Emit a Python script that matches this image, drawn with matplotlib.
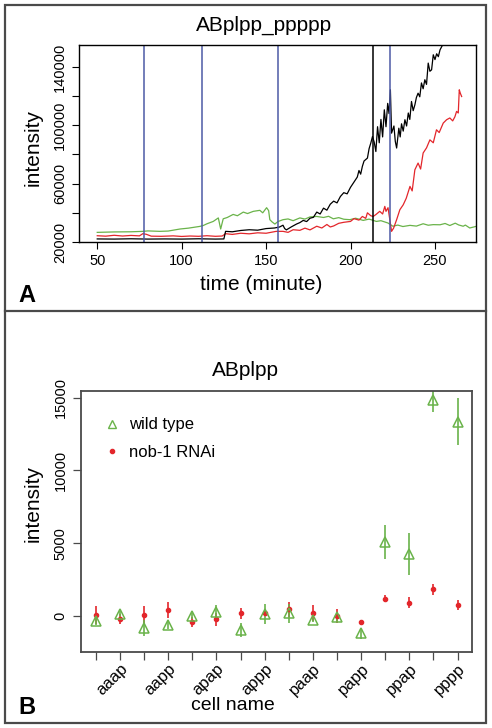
import matplotlib
matplotlib.use("Agg")
import matplotlib.pyplot as plt
from matplotlib.patches import Rectangle
from matplotlib.lines import Line2D

plt.rcParams['font.family'] = ['Liberation Sans', 'DejaVu Sans']

# Panel A: intensity traces (time in minutes)
black_t = [50, 60, 70, 80, 90, 100, 110, 120, 125, 126, 130, 135, 140, 145, 150, 155, 158, 160,
           161, 162, 165, 168, 170, 172, 174, 176, 178, 180, 182, 184, 186, 188, 190, 192, 194,
           196, 198, 200, 202, 204, 205, 206, 207, 208, 210, 211, 212, 213, 214, 215, 216, 217,
           218, 219, 220, 221, 222, 222.8, 223.6, 224.3, 225.7, 226.5, 227.3, 228.6, 229.4,
           230.2, 231.2, 232.2, 233.2, 234.2, 235.1, 236.1, 237.1, 238.1, 239, 240, 241, 242,
           243, 244, 245, 246, 247, 248, 249, 250, 251, 252, 253, 254.5]
black_v = [22100, 22000, 22200, 22000, 22100, 22000, 22200, 22000, 22100, 27300, 27000, 27900,
           28400, 28100, 29200, 29600, 30300, 31500, 29200, 28300, 30400, 32300, 33300, 34800,
           34000, 36300, 36900, 40500, 39200, 43200, 41800, 45900, 48000, 46800, 51200, 53800,
           53000, 57500, 61000, 64500, 69000, 66500, 71800, 75500, 77500, 84000, 87800, 92300,
           88500, 82000, 99000, 88000, 104000, 92000, 110600, 99000, 115000, 108000, 124300,
           94600, 99500, 89000, 84400, 98000, 92000, 101000, 96000, 103800, 99500, 108400,
           104000, 116300, 110000, 114000, 119000, 122000, 119500, 129000, 125000, 131200,
           128000, 142600, 137000, 138000, 148300, 145000, 149000, 147000, 151700, 155000]

red_t = [50, 55, 60, 65, 70, 75, 77, 79, 82, 88, 95, 100, 105, 110, 115, 120, 124, 126, 130, 135,
         140, 145, 150, 156, 160, 163, 166, 170, 173, 176, 180, 183, 186, 188, 190, 193, 196, 200,
         202, 205, 207, 209, 210, 212, 213.4, 215, 217.3, 219, 220.3, 221, 222.2, 223.3, 224.3,
         225.5, 227.3, 229.2, 231.2, 233, 235.2, 236.5, 238.1, 240, 241.5, 243, 245, 247, 249,
         250.9, 252.5, 254.9, 256.9, 258.8, 260.5, 261.8, 262.8, 263.8, 264.4, 265, 265.8]
red_v = [24300, 24000, 24600, 24100, 24500, 24200, 25700, 25300, 24000, 23900, 24200, 23800,
         24100, 23900, 24300, 23900, 24100, 25700, 25200, 26000, 25600, 26300, 26000, 27300,
         27300, 26600, 28400, 28000, 29500, 28300, 30800, 29600, 32000, 30300, 31000, 32800,
         33500, 34100, 36000, 35000, 37500, 36200, 40000, 38000, 37500, 38800, 41000, 39200,
         44400, 41000, 43500, 35000, 27300, 29500, 35300, 42100, 45500, 50000, 58100, 55000,
         69500, 74100, 70000, 81000, 84500, 90000, 88000, 96900, 95000, 101500, 103800, 105000,
         103000, 105800, 109500, 108400, 124300, 122000, 119700]

green_t = [50, 60, 70, 77.2, 80, 87.1, 92, 99, 104, 110.8, 112.8, 115, 118.7, 121.7, 123.1,
           124.6, 127, 130.5, 133, 136.5, 139, 142.4, 146.3, 148, 150.3, 151.5, 152.2, 153.5,
           155.2, 157, 160, 163, 166, 170, 173, 176, 180, 184, 187, 189.8, 193, 196, 199.6, 203,
           207.5, 211, 215.3, 218, 222.2, 225.1, 228, 231, 235.2, 239, 243, 246, 249, 253, 256,
           258.8, 262, 264, 266.7, 268, 270.6, 273, 275]
green_v = [26600, 26900, 27000, 27300, 27600, 27300, 27500, 28900, 29500, 30700, 31300, 32500,
           34100, 36500, 28900, 35900, 36800, 38900, 38000, 40500, 39500, 41000, 41700, 40000,
           43500, 41500, 35300, 33800, 32300, 34000, 35300, 35800, 34600, 36500, 35700, 37200,
           37500, 36800, 37600, 35900, 36700, 35600, 35300, 36300, 34800, 35700, 34100, 34600,
           33000, 30800, 31600, 30600, 31400, 30900, 32500, 31500, 31900, 31800, 32700, 31300,
           32900, 31700, 30800, 31600, 29600, 30300, 30900]

blue_marks = [77.8, 112, 157, 223.2]
black_mark = 213.4

# Panel B: mean intensity per cell
cells = ['aaaa', 'aaap', 'aapa', 'aapp', 'apaa', 'apap', 'appa', 'appp',
         'paaa', 'paap', 'papa', 'papp', 'ppaa', 'ppap', 'pppa', 'pppp']
wt_mean = [-340, 115, -850, -620, 0, 300, -960, 140, 180, -270, -90, -1190, 5100, 4260, 14840, 13350]
wt_err = [300, 200, 550, 300, 200, 450, 450, 700, 650, 150, 300, 380, 1150, 1450, 800, 1600]
rnai_mean = [70, -230, 70, 410, -390, -230, 180, 230, 450, 230, 0, -430, 1190, 920, 1830, 760]
rnai_err = [600, 350, 650, 550, 350, 450, 400, 150, 500, 550, 480, 170, 260, 380, 380, 370]

W, H = 492, 728
fig = plt.figure(figsize=(W / 100, H / 100), dpi=100)

def fx(px):
    return px / W

def fy(py):
    return 1 - py / H

green = '#6ab34a'
red = '#e3262b'
blue = '#4d5aa6'
frame = '#4a4a4a'

# panel borders
fig.add_artist(Rectangle((fx(5), fy(723)), fx(481), (718) / H, transform=fig.transFigure,
                         fill=False, edgecolor=frame, linewidth=1.6))
fig.add_artist(Line2D([fx(5), fx(486)], [fy(311), fy(311)], transform=fig.transFigure,
                      color=frame, linewidth=1.6))

# ---- Panel A ----
axA = fig.add_axes([fx(79), fy(242), fx(397), 197 / H])
axA.plot(green_t, green_v, color=green, lw=0.9)
axA.plot(red_t, red_v, color=red, lw=0.9)
axA.plot(black_t, black_v, color='black', lw=0.9)
for b in blue_marks:
    axA.axvline(b, color=blue, lw=1.1)
axA.axvline(black_mark, color='black', lw=1.1)
axA.set_xlim(39.2, 274.3)
axA.set_ylim(20000, 155000)
axA.set_xticks([50, 100, 150, 200, 250])
axA.set_yticks(range(20000, 150000, 20000))
axA.set_yticklabels(['20000', '', '60000', '', '100000', '', '140000'],
                    rotation=90, va='center')
axA.tick_params(labelsize=10.5, length=5, width=0.8, direction='out')
for s in axA.spines.values():
    s.set_linewidth(1.0)

fig.text(fx(264), fy(25), 'ABplpp_ppppp', ha='center', va='center', fontsize=15)
fig.text(fx(261), fy(285), 'time (minute)', ha='center', va='center', fontsize=15)
fig.text(fx(33), fy(147), 'intensity', ha='center', va='center', fontsize=15, rotation=90)
fig.text(fx(27), fy(296), 'A', ha='center', va='center', fontsize=17, fontweight='bold')

# ---- Panel B ----
axB = fig.add_axes([fx(81), fy(651.7), fx(391), 261 / H])
pos = list(range(1, len(cells) + 1))
axB.errorbar(pos, rnai_mean, yerr=rnai_err, fmt='o', color=red, ms=3.0, elinewidth=1.2,
             capsize=0)
axB.errorbar(pos, wt_mean, yerr=wt_err, fmt='^', color=green, mfc='none', mec=green, ms=7,
             mew=1.1, elinewidth=1.2, capsize=0)
axB.set_xlim(0.38, 16.6)
axB.set_ylim(-2450, 15480)
axB.set_xticks(pos)
axB.set_xticklabels([c if i % 2 == 1 else '' for i, c in enumerate(cells)],
                    rotation=45, ha='right', va='top', rotation_mode='anchor')
axB.set_yticks([0, 5000, 10000, 15000])
axB.set_yticklabels(['0', '5000', '10000', '15000'], rotation=90, va='center')
axB.tick_params(axis='y', labelsize=10.5, length=6, width=0.9, direction='out', color=frame)
axB.tick_params(axis='x', labelsize=12, length=6, width=0.9, direction='out', color=frame,
                pad=1)
for s in axB.spines.values():
    s.set_color(frame)
    s.set_linewidth(1.3)

leg_handles = [Line2D([], [], ls='none', marker='^', mfc='none', mec=green, ms=6, mew=1.0),
               Line2D([], [], ls='none', marker='o', color=red, ms=3.0)]
axB.legend(leg_handles, ['wild type', 'nob-1 RNAi'], loc='upper left',
           bbox_to_anchor=(0.02, 0.955), frameon=False, fontsize=12, handletextpad=0.5,
           labelspacing=0.75, handlelength=1.0)

fig.text(fx(245), fy(370), 'ABplpp', ha='center', va='center', fontsize=15)
fig.text(fx(233), fy(706), 'cell name', ha='center', va='center', fontsize=14)
fig.text(fx(33), fy(503), 'intensity', ha='center', va='center', fontsize=15, rotation=90)
fig.text(fx(27), fy(708), 'B', ha='center', va='center', fontsize=17, fontweight='bold')

fig.savefig('out.png', dpi=100)
